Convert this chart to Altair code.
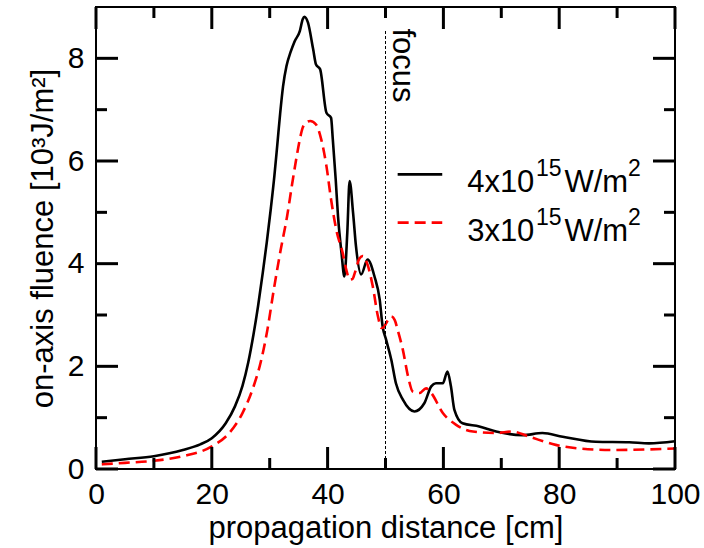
import altair as alt
import pandas as pd

# ---- data ----
x_hi = [1, 5, 10, 15, 18, 20, 22.4, 24.0, 25.3, 26.3, 27.2, 28.0, 28.8, 29.5, 30.2, 30.8, 31.3,
        31.8, 32.3, 32.9, 33.6, 34.3, 35.2, 35.7, 36.0, 36.6, 37.5, 38.0, 38.7, 39.8, 40.6, 40.9,
        41.4, 41.8, 42.4, 42.9, 43.4, 43.8, 44.4, 44.9, 45.8, 46.9, 48.1, 49.0, 49.5, 50.1,
        51.0, 51.8, 53.0, 55.0, 56.7, 57.9, 58.7, 59.9, 60.7, 61.3, 61.9, 63.3, 66.2, 69.1,
        73.7, 77.1, 80.6, 86.3, 92.1, 95.5, 100]
y_hi = [0.14, 0.19, 0.25, 0.37, 0.48, 0.60, 0.89, 1.22, 1.62, 2.08, 2.62, 3.18, 3.82, 4.42, 5.08,
        5.70, 6.30, 6.92, 7.45, 7.85, 8.12, 8.33, 8.53, 8.76, 8.81, 8.70, 8.18, 7.88, 7.79, 6.94,
        6.84, 6.42, 5.64, 4.92, 4.21, 3.75, 4.60, 5.61, 4.99, 4.34, 3.79, 4.08, 3.75, 3.30, 2.78,
        2.52, 2.13, 1.67, 1.35, 1.12, 1.28, 1.61, 1.67, 1.67, 1.90, 1.61, 1.15, 0.89, 0.83, 0.73,
        0.66, 0.70, 0.63, 0.53, 0.52, 0.50, 0.54]

x_lo = [1, 5, 10, 15, 20, 23.0, 25.3, 27.0, 28.4, 29.6, 30.7, 31.9, 33.0, 33.9, 34.6, 35.2, 35.7,
        36.4, 37.0, 38.0, 38.9, 39.8, 40.6, 41.5, 42.6, 43.3, 43.8, 44.3, 44.7, 45.5, 46.1,
        46.9, 47.8, 48.7, 49.3, 49.7, 50.1, 51.0, 51.6, 52.1, 53.0, 53.9, 54.7, 55.9, 57.0,
        57.9, 59.9, 62.2, 65.1, 69.1, 71.9, 74.8, 79.4, 83.4, 89.2, 94.9, 100]
y_lo = [0.09, 0.12, 0.16, 0.25, 0.44, 0.70, 1.09, 1.54, 2.06, 2.71, 3.49, 4.27, 4.92, 5.57, 6.05,
        6.42, 6.65, 6.76, 6.78, 6.71, 6.42, 5.90, 5.25, 4.66, 4.21, 3.85, 3.69, 3.70, 3.82,
        4.10, 4.15, 3.98, 3.56, 2.97, 2.75, 2.76, 2.84, 2.97, 2.90, 2.71, 2.32, 1.80, 1.51,
        1.48, 1.57, 1.48, 1.09, 0.86, 0.73, 0.70, 0.73, 0.63, 0.47, 0.40, 0.37, 0.38, 0.40]

x_major = [0, 20, 40, 60, 80, 100]
x_minor = [10, 30, 50, 70, 90]
y_major = [0, 2, 4, 6, 8]
y_minor = [1, 3, 5, 7]

focus_x = 50
focus_top = 8.57

W, H = 579, 462
XMAX, YMAX = 100, 9
FONT = "Liberation Sans"
FS = 31

df_hi = pd.DataFrame({"x": x_hi, "y": y_hi})
df_lo = pd.DataFrame({"x": x_lo, "y": y_lo})

xs = alt.Scale(domain=[0, XMAX], nice=False, zero=False)
ys = alt.Scale(domain=[0, YMAX], nice=False, zero=False)

xaxis = alt.Axis(values=x_major, title="propagation distance [cm]", grid=False, ticks=False,
                 domain=False, labelFontSize=30, labelFont=FONT, labelColor="black",
                 labelPadding=10, labelFlush=False, titleFont=FONT, titleFontSize=FS,
                 titleFontWeight="normal", titleColor="black", titlePadding=4)
yaxis = alt.Axis(values=y_major, title="on-axis fluence [10³J/m²]", grid=False, ticks=False,
                 domain=False, labelFontSize=30, labelFont=FONT, labelColor="black",
                 labelPadding=12, labelFlush=False, titleFont=FONT, titleFontSize=FS,
                 titleFontWeight="normal", titleColor="black", titlePadding=8)

# inward ticks on all four sides: one table of segments (tx, ty) -> (tx2, ty2) in data units
rows = []
for vals, length in ((x_major, 22), (x_minor, 11)):
    L = length / H * YMAX
    for v in vals:
        rows.append({"tx": float(v), "tx2": float(v), "ty": 0.0, "ty2": L})
        rows.append({"tx": float(v), "tx2": float(v), "ty": float(YMAX), "ty2": YMAX - L})
for vals, length in ((y_major, 22), (y_minor, 11)):
    L = length / W * XMAX
    for v in vals:
        rows.append({"tx": 0.0, "tx2": L, "ty": float(v), "ty2": float(v)})
        rows.append({"tx": float(XMAX), "tx2": XMAX - L, "ty": float(v), "ty2": float(v)})
df_ticks = pd.DataFrame(rows)

line_hi = alt.Chart(df_hi).mark_line(color="black", strokeWidth=2.6, interpolate="monotone").encode(
    x=alt.X("x:Q", scale=xs, axis=xaxis),
    y=alt.Y("y:Q", scale=ys, axis=yaxis),
)
line_lo = alt.Chart(df_lo).mark_line(color="#ff0000", strokeWidth=2.6, strokeDash=[11, 6],
                                     interpolate="monotone").encode(
    x=alt.X("x:Q", scale=xs), y=alt.Y("y:Q", scale=ys))

ticks = alt.Chart(df_ticks).mark_rule(color="#000000", strokeWidth=3, opacity=1,
                                      strokeCap="butt").encode(
    x=alt.X("tx:Q", scale=xs), x2="tx2:Q", y=alt.Y("ty:Q", scale=ys), y2="ty2:Q")

focus = alt.Chart(pd.DataFrame({"x": [focus_x], "y": [0], "y2": [focus_top]})).mark_rule(
    color="black", strokeWidth=1, strokeDash=[3, 2]).encode(
    x=alt.X("x:Q", scale=xs), y=alt.Y("y:Q", scale=ys), y2="y2:Q")

focus_txt = alt.Chart(pd.DataFrame({"x": [52.9], "y": [7.86], "t": ["focus"]})).mark_text(
    angle=90, align="center", baseline="middle", font=FONT, fontSize=FS, color="black").encode(
    x=alt.X("x:Q", scale=xs), y=alt.Y("y:Q", scale=ys), text="t:N")

# legend
leg_hi = alt.Chart(pd.DataFrame({"x": [52.1], "x2": [59.8], "y": [5.74]})).mark_rule(
    color="black", strokeWidth=2.6).encode(
    x=alt.X("x:Q", scale=xs), x2="x2:Q", y=alt.Y("y:Q", scale=ys))
leg_lo = alt.Chart(pd.DataFrame({"x": [52.1], "x2": [59.8], "y": [4.80]})).mark_rule(
    color="#ff0000", strokeWidth=2.6, strokeDash=[11, 6]).encode(
    x=alt.X("x:Q", scale=xs), x2="x2:Q", y=alt.Y("y:Q", scale=ys))

leg_main = pd.DataFrame({
    "x": [64.1, 80.9, 64.1, 80.9],
    "y": [5.39, 5.39, 4.45, 4.45],
    "t": ["4x10", "W/m", "3x10", "W/m"],
})
leg_sup = pd.DataFrame({
    "x": [76.0, 91.9, 76.0, 91.9],
    "y": [5.70, 5.70, 4.76, 4.76],
    "t": ["15", "2", "15", "2"],
})
leg_t1 = alt.Chart(leg_main).mark_text(align="left", baseline="alphabetic", font=FONT,
                                       fontSize=FS, color="black").encode(
    x=alt.X("x:Q", scale=xs), y=alt.Y("y:Q", scale=ys), text="t:N")
leg_t2 = alt.Chart(leg_sup).mark_text(align="left", baseline="alphabetic", font=FONT,
                                      fontSize=23, color="black").encode(
    x=alt.X("x:Q", scale=xs), y=alt.Y("y:Q", scale=ys), text="t:N")

chart = alt.layer(line_hi, line_lo, focus, focus_txt, leg_hi, leg_lo, leg_t1, leg_t2, ticks).properties(
    width=W, height=H,
    padding={"left": 96, "top": 7, "right": 29, "bottom": 79},
    autosize=alt.AutoSizeParams(type="none"),
    background="white",
).configure_view(stroke="black", strokeWidth=2)

chart.save("out.html", embed_options={"renderer": "svg", "actions": False})
